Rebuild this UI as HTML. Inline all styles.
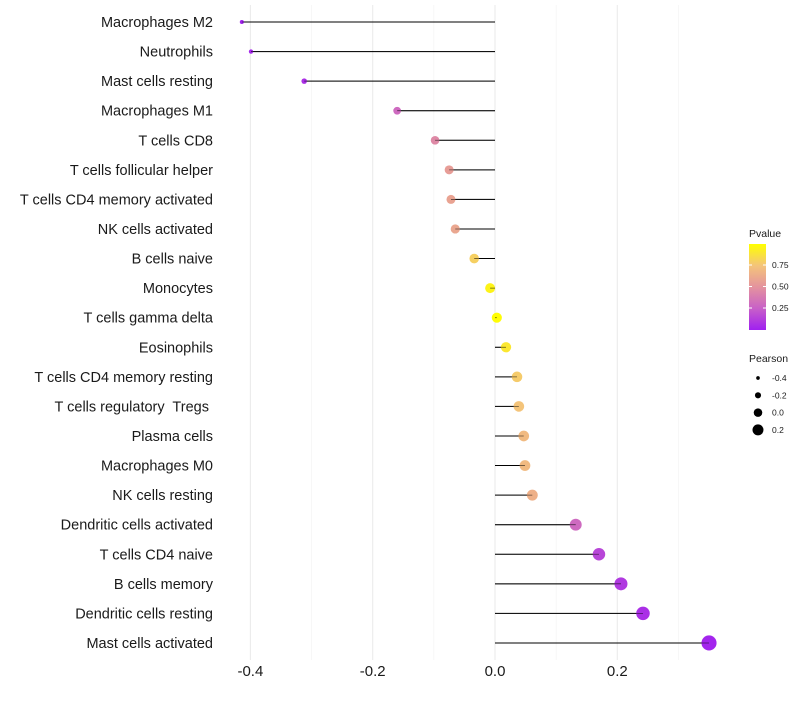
<!DOCTYPE html>
<html><head><meta charset="utf-8"><style>
body{margin:0;background:#fff;font-family:"Liberation Sans",sans-serif;}
svg text{font-family:"Liberation Sans",sans-serif;white-space:pre;}
</style></head><body>
<svg id="chart" width="800" height="700" xmlns="http://www.w3.org/2000/svg">
<g id="grid"></g>
<g id="marks"></g>
<g id="ylabels"></g>
<g id="xlabels"></g>
<g id="legend"></g>
</svg>
<script>
const categories=["Macrophages M2","Neutrophils","Mast cells resting","Macrophages M1","T cells CD8","T cells follicular helper","T cells CD4 memory activated","NK cells activated","B cells naive","Monocytes","T cells gamma delta","Eosinophils","T cells CD4 memory resting","T cells regulatory  Tregs ","Plasma cells","Macrophages M0","NK cells resting","Dendritic cells activated","T cells CD4 naive","B cells memory","Dendritic cells resting","Mast cells activated"];
const pearson=[-0.414,-0.399,-0.312,-0.160,-0.098,-0.075,-0.072,-0.065,-0.034,-0.008,0.003,0.018,0.036,0.039,0.047,0.049,0.061,0.132,0.170,0.206,0.242,0.350];
const pvalue=[0.01,0.03,0.06,0.3,0.45,0.55,0.58,0.6,0.8,0.95,0.99,0.9,0.78,0.75,0.7,0.7,0.65,0.3,0.15,0.1,0.06,0.02];
const xTicks=[-0.4,-0.2,0.0,0.2];
const xTickLabels=["-0.4","-0.2","0.0","0.2"];
const xMinor=[-0.3,-0.1,0.1,0.3];
const pTicks=[0.25,0.5,0.75];
const pTickLabels=["0.25","0.50","0.75"];
const sizeBreaks=[-0.4,-0.2,0.0,0.2];
const sizeLabels=["-0.4","-0.2","0.0","0.2"];

const NS="http://www.w3.org/2000/svg";
const x=v=>495+v*611.5;
const y=i=>22+i*29.57;
const r=v=>2+(v+0.42)*7.2;
const stops=[[0,[160,32,240]],[0.25,[200,96,200]],[0.5,[228,147,158]],[0.75,[244,196,122]],[1,[255,255,0]]];
function col(p){for(let k=1;k<stops.length;k++){if(p<=stops[k][0]){const a=stops[k-1],b=stops[k];const t=(p-a[0])/(b[0]-a[0]);const c=a[1].map((v,j)=>Math.round(v+(b[1][j]-v)*t));return `rgb(${c})`;}}return "rgb(255,255,0)";}
function mk(tag,attrs,parent){const e=document.createElementNS(NS,tag);for(const k in attrs)e.setAttribute(k,attrs[k]);parent.appendChild(e);return e;}
const grid=document.getElementById('grid'),marks=document.getElementById('marks'),yl=document.getElementById('ylabels'),xl=document.getElementById('xlabels'),lg=document.getElementById('legend');
xMinor.forEach(v=>{const l=mk('line',{x1:x(v),x2:x(v),y1:5,y2:660,stroke:'#f2f2f2','stroke-width':0.6},grid);

});
xTicks.forEach((v,i)=>{const l=mk('line',{x1:x(v),x2:x(v),y1:5,y2:660,stroke:'#ebebeb','stroke-width':1.1},grid);


const t=mk('text',{x:x(v),y:676,'text-anchor':'middle','font-size':15,fill:'#1a1a1a'},xl);t.textContent=xTickLabels[i];

});
categories.forEach((c,i)=>{
const t=mk('text',{x:213,y:y(i)+5,'text-anchor':'end','font-size':14.5,fill:'#1a1a1a'},yl);t.textContent=c;


const l=mk('line',{x1:x(0),x2:x(pearson[i]),y1:y(i),y2:y(i),stroke:'#000','stroke-width':1},marks);


const d=mk('circle',{cx:x(pearson[i]),cy:y(i),r:r(pearson[i]),fill:col(pvalue[i])},marks);


const l2=mk('line',{x1:x(0),x2:x(pearson[i]),y1:y(i),y2:y(i),stroke:'#000','stroke-width':0.8,'stroke-opacity':0.6},marks);


});
const tt=mk('text',{x:749,y:237,'font-size':10.5,fill:'#1a1a1a'},lg);tt.textContent="Pvalue";


const defs=mk('defs',{},lg);const gr=mk('linearGradient',{id:'pg',x1:0,y1:1,x2:0,y2:0},defs);
stops.forEach(s=>mk('stop',{offset:s[0],'stop-color':`rgb(${s[1]})`},gr));
const bar=mk('rect',{x:749,y:244,width:17,height:86,fill:'url(#pg)'},lg);


const py=p=>329.5-p*86;
pTicks.forEach((p,i)=>{mk('line',{x1:749,x2:752,y1:py(p),y2:py(p),stroke:'#fff'},lg);mk('line',{x1:763,x2:766,y1:py(p),y2:py(p),stroke:'#fff'},lg);
const t=mk('text',{x:772,y:py(p)+3,'font-size':8.5,fill:'#1a1a1a'},lg);t.textContent=pTickLabels[i];

});
const st=mk('text',{x:749,y:362,'font-size':10.5,fill:'#1a1a1a'},lg);st.textContent="Pearson";


sizeBreaks.forEach((v,i)=>{const cy=378+i*17.3;const c=mk('circle',{cx:758,cy:cy,r:r(v)*0.85,fill:'#000'},lg);


const t=mk('text',{x:772,y:cy+3,'font-size':8.5,fill:'#1a1a1a'},lg);t.textContent=sizeLabels[i];

});
</script>
</body></html>
